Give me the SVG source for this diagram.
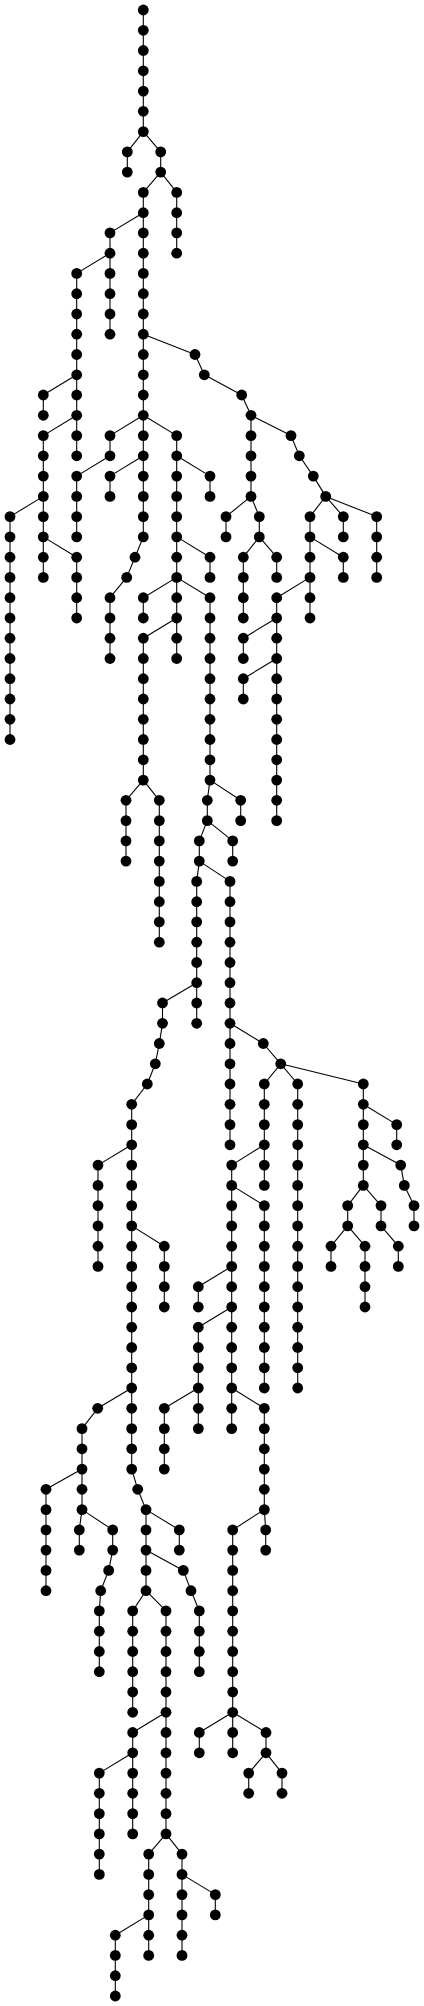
<svg xmlns="http://www.w3.org/2000/svg" width="424" height="2006" viewBox="0 0 424 2006">
<style>.n circle{fill:#000}#edges path{stroke:#000;stroke-width:1.1;fill:none}</style>
<rect width="424" height="2006" fill="#fff"/>
<g id="edges">
<path d="M143.3 10V30.3"/><path d="M143.3 30.3V50.5"/><path d="M143.3 50.5V70.8"/><path d="M143.3 70.8V91.1"/><path d="M143.3 91.1V111.3"/><path d="M143.3 111.3V131.6"/>
<path d="M143.3 131.6L127.3 151.9"/><path d="M143.3 131.6L160.7 151.9"/><path d="M127.3 151.9V172.1"/><path d="M160.7 151.9V172.1"/>
<path d="M160.7 172.1L143.3 192.4"/><path d="M160.7 172.1L176.7 192.4"/>
<path d="M176.7 192.4V212.7"/><path d="M176.7 212.7V232.9"/><path d="M176.7 232.9V253.2"/>
<path d="M143.3 192.4V212.7"/><path d="M143.3 212.7L110 232.9"/><path d="M143.3 212.7V232.9"/>
<path d="M110 232.9V253.2"/><path d="M110 253.2L76.7 273.4"/><path d="M110 253.2V273.4"/><path d="M110 273.4V293.7"/><path d="M110 293.7V314"/><path d="M110 314V334.2"/>
<path d="M76.7 273.4V293.7"/><path d="M76.7 293.7V314"/><path d="M76.7 314V334.2"/><path d="M76.7 334.2V354.5"/><path d="M76.7 354.5V374.8"/>
<path d="M76.7 374.8L43.3 395"/><path d="M76.7 374.8V395"/><path d="M43.3 395V415.3"/><path d="M76.7 395V415.3"/>
<path d="M76.7 415.3L43.3 435.6"/><path d="M76.7 415.3V435.6"/><path d="M76.7 435.6V455.8"/>
<path d="M43.3 435.6V455.8"/><path d="M43.3 455.8V476.1"/><path d="M43.3 476.1V496.4"/>
<path d="M43.3 496.4L10 516.6"/><path d="M43.3 496.4V516.6"/>
<path d="M10 516.6V536.9"/><path d="M10 536.9V557.2"/><path d="M10 557.2V577.4"/><path d="M10 577.4V597.7"/><path d="M10 597.7V618"/><path d="M10 618V638.2"/><path d="M10 638.2V658.5"/><path d="M10 658.5V678.7"/><path d="M10 678.7V699"/><path d="M10 699V719.3"/><path d="M10 719.3V739.5"/>
<path d="M43.3 516.6V536.9"/><path d="M43.3 536.9V557.2"/><path d="M43.3 536.9L76.7 557.2"/><path d="M43.3 557.2V577.4"/>
<path d="M76.7 557.2V577.4"/><path d="M76.7 577.4V597.7"/><path d="M76.7 597.7V618"/>
<path d="M143.3 232.9V253.2"/><path d="M143.3 253.2V273.4"/><path d="M143.3 273.4V293.7"/><path d="M143.3 293.7V314"/><path d="M143.3 314V334.2"/><path d="M143.3 334.2V354.5"/><path d="M143.3 354.5V374.8"/><path d="M143.3 374.8V395"/><path d="M143.3 395V415.3"/>
<path d="M143.3 334.2L195 354.5"/>
<path d="M143.3 415.3L110 435.6"/><path d="M143.3 415.3V435.6"/><path d="M143.3 415.3L176.7 435.6"/>
<path d="M110 435.6V455.8"/><path d="M110 455.8L76.7 476.1"/>
<path d="M76.7 476.1V496.4"/><path d="M76.7 496.4V516.6"/><path d="M76.7 516.6V536.9"/>
<path d="M143.3 435.6V455.8"/><path d="M143.3 455.8L110 476.1"/><path d="M143.3 455.8V476.1"/><path d="M110 476.1V496.4"/>
<path d="M143.3 476.1V496.4"/><path d="M143.3 496.4V516.6"/><path d="M143.3 516.6V536.9"/>
<path d="M143.3 536.9L135 557.2"/><path d="M135 557.2L126.7 577.4"/><path d="M126.7 577.4L110 597.7"/>
<path d="M110 597.7V618"/><path d="M110 618V638.2"/><path d="M110 638.2V658.5"/>
<path d="M176.7 435.6V455.8"/><path d="M176.7 455.8V476.1"/><path d="M176.7 455.8L210 476.1"/><path d="M210 476.1V496.4"/>
<path d="M176.7 476.1V496.4"/><path d="M176.7 496.4V516.6"/><path d="M176.7 516.6V536.9"/>
<path d="M176.7 536.9V557.2"/><path d="M176.7 536.9L210 557.2"/><path d="M210 557.2V577.4"/><path d="M176.7 557.2V577.4"/>
<path d="M176.7 577.4L143.3 597.7"/><path d="M176.7 577.4V597.7"/><path d="M176.7 577.4L210 597.7"/>
<path d="M143.3 597.7V618"/><path d="M176.7 597.7V618"/><path d="M176.7 618L143.3 638.2"/><path d="M176.7 618V638.2"/><path d="M176.7 638.2V658.5"/>
<path d="M143.3 638.2V658.5"/><path d="M143.3 658.5V678.7"/><path d="M143.3 678.7V699"/><path d="M143.3 699V719.3"/><path d="M143.3 719.3V739.5"/><path d="M143.3 739.5V759.8"/><path d="M143.3 759.8V780.1"/>
<path d="M143.3 780.1L126 800.3"/><path d="M143.3 780.1L159.3 800.3"/>
<path d="M126 800.3V820.6"/><path d="M126 820.6V840.9"/><path d="M126 840.9V861.1"/>
<path d="M159.3 800.3V820.6"/><path d="M159.3 820.6V840.9"/><path d="M159.3 840.9V861.1"/><path d="M159.3 861.1V881.4"/><path d="M159.3 881.4V901.7"/><path d="M159.3 901.7V921.9"/><path d="M159.3 921.9V942.2"/>
<path d="M210 597.7V618"/><path d="M210 618V638.2"/><path d="M210 638.2V658.5"/><path d="M210 658.5V678.7"/><path d="M210 678.7V699"/><path d="M210 699V719.3"/><path d="M210 719.3V739.5"/><path d="M210 739.5V759.8"/><path d="M210 759.8V780.1"/>
<path d="M210 780.1L207.3 800.3"/><path d="M210 780.1L240.7 800.3"/><path d="M240.7 800.3V820.6"/><path d="M207.3 800.3V820.6"/>
<path d="M207.3 820.6L199.3 840.9"/><path d="M207.3 820.6L232.7 840.9"/><path d="M232.7 840.9V861.1"/><path d="M199.3 840.9V861.1"/>
<path d="M199.3 861.1L196.7 881.4"/><path d="M199.3 861.1L230 881.4"/>
<path d="M196.7 881.4V901.7"/><path d="M196.7 901.7V921.9"/><path d="M196.7 921.9V942.2"/><path d="M196.7 942.2V962.5"/><path d="M196.7 962.5V982.7"/>
<path d="M196.7 982.7L162.5 1003"/><path d="M196.7 982.7V1003"/><path d="M196.7 1003V1023.3"/>
<path d="M162.5 1003V1023.3"/><path d="M162.5 1023.3L159.3 1043.5"/><path d="M159.3 1043.5L155.3 1063.8"/><path d="M155.3 1063.8L147.3 1084"/><path d="M147.3 1084L131.7 1104.3"/>
<path d="M131.7 1104.3V1124.6"/><path d="M131.7 1124.6V1144.8"/><path d="M131.7 1144.8L98 1165.1"/><path d="M131.7 1144.8V1165.1"/>
<path d="M98 1165.1V1185.4"/><path d="M98 1185.4V1205.6"/><path d="M98 1205.6V1225.9"/><path d="M98 1225.9V1246.2"/><path d="M98 1246.2V1266.4"/>
<path d="M131.7 1165.1V1185.4"/><path d="M131.7 1185.4V1205.6"/><path d="M131.7 1205.6V1225.9"/><path d="M131.7 1225.9L164.3 1246.2"/><path d="M131.7 1225.9V1246.2"/>
<path d="M164.3 1246.2V1266.4"/><path d="M164.3 1266.4V1286.7"/><path d="M164.3 1286.7V1307"/>
<path d="M131.7 1246.2V1266.4"/><path d="M131.7 1266.4V1286.7"/><path d="M131.7 1286.7V1307"/><path d="M131.7 1307V1327.2"/><path d="M131.7 1327.2V1347.5"/><path d="M131.7 1347.5V1367.8"/><path d="M131.7 1367.8V1388"/>
<path d="M131.7 1388L97.7 1408.3"/><path d="M131.7 1388V1408.3"/><path d="M131.7 1408.3V1428.6"/><path d="M131.7 1428.6V1448.8"/><path d="M131.7 1448.8V1469.1"/>
<path d="M131.7 1469.1L137.7 1489.3"/><path d="M137.7 1489.3L146 1509.6"/>
<path d="M97.7 1408.3L82 1428.6"/><path d="M82 1428.6V1448.8"/><path d="M82 1448.8V1469.1"/><path d="M82 1469.1L46 1489.3"/><path d="M82 1469.1V1489.3"/><path d="M82 1489.3V1509.6"/>
<path d="M46 1489.3V1509.6"/><path d="M46 1509.6V1529.9"/><path d="M46 1529.9V1550.1"/><path d="M46 1550.1V1570.4"/><path d="M46 1570.4V1590.7"/>
<path d="M82 1509.6L79.3 1529.9"/><path d="M82 1509.6L112.7 1529.9"/><path d="M79.3 1529.9V1550.1"/><path d="M112.7 1529.9V1550.1"/>
<path d="M112.7 1550.1L108.7 1570.4"/><path d="M108.7 1570.4L100.7 1590.7"/><path d="M100.7 1590.7L99.3 1610.9"/>
<path d="M99.3 1610.9V1631.2"/><path d="M99.3 1631.2V1651.5"/><path d="M99.3 1651.5V1671.7"/>
<path d="M146 1509.6V1529.9"/><path d="M146 1509.6L179.3 1529.9"/><path d="M179.3 1529.9V1550.1"/><path d="M146 1529.9V1550.1"/>
<path d="M146 1550.1V1570.4"/><path d="M146 1550.1L183.3 1570.4"/><path d="M183.3 1570.4L191 1590.7"/><path d="M191 1590.7L199.3 1610.9"/>
<path d="M199.3 1610.9V1631.2"/><path d="M199.3 1631.2V1651.5"/><path d="M199.3 1651.5V1671.7"/>
<path d="M146 1570.4V1590.7"/><path d="M146 1590.7L132.7 1610.9"/><path d="M146 1590.7L166 1610.9"/>
<path d="M132.7 1610.9V1631.2"/><path d="M132.7 1631.2V1651.5"/><path d="M132.7 1651.5V1671.7"/><path d="M132.7 1671.7V1692"/><path d="M132.7 1692V1712.3"/>
<path d="M166 1610.9V1631.2"/><path d="M166 1631.2V1651.5"/><path d="M166 1651.5V1671.7"/><path d="M166 1671.7V1692"/><path d="M166 1692V1712.3"/>
<path d="M166 1712.3L132.7 1732.5"/><path d="M166 1712.3V1732.5"/><path d="M132.7 1732.5V1752.8"/>
<path d="M132.7 1752.8L99.3 1773.1"/><path d="M132.7 1752.8V1773.1"/><path d="M132.7 1773.1V1793.3"/><path d="M132.7 1793.3V1813.6"/><path d="M132.7 1813.6V1833.9"/>
<path d="M99.3 1773.1V1793.3"/><path d="M99.3 1793.3V1813.6"/><path d="M99.3 1813.6V1833.9"/><path d="M99.3 1833.9V1854.1"/><path d="M99.3 1854.1V1874.4"/>
<path d="M166 1732.5V1752.8"/><path d="M166 1752.8V1773.1"/><path d="M166 1773.1V1793.3"/><path d="M166 1793.3V1813.6"/><path d="M166 1813.6V1833.9"/>
<path d="M166 1833.9L148.7 1854.1"/><path d="M166 1833.9L182 1854.1"/>
<path d="M148.7 1854.1V1874.4"/><path d="M148.7 1874.4V1894.6"/><path d="M148.7 1894.6V1914.9"/><path d="M148.7 1914.9L115.3 1935.2"/><path d="M148.7 1914.9V1935.2"/><path d="M148.7 1935.2V1955.4"/>
<path d="M115.3 1935.2V1955.4"/><path d="M115.3 1955.4V1975.7"/><path d="M115.3 1975.7V1996"/>
<path d="M182 1854.1V1874.4"/><path d="M182 1874.4V1894.6"/><path d="M182 1874.4L215.3 1894.6"/><path d="M215.3 1894.6V1914.9"/>
<path d="M182 1894.6V1914.9"/><path d="M182 1914.9V1935.2"/><path d="M182 1935.2V1955.4"/>
<path d="M230 881.4V901.7"/><path d="M230 901.7V921.9"/><path d="M230 921.9V942.2"/><path d="M230 942.2V962.5"/><path d="M230 962.5V982.7"/><path d="M230 982.7V1003"/><path d="M230 1003V1023.3"/>
<path d="M230 1023.3V1043.5"/><path d="M230 1023.3L263.3 1043.5"/>
<path d="M230 1043.5V1063.8"/><path d="M230 1063.8V1084"/><path d="M230 1084V1104.3"/><path d="M230 1104.3V1124.6"/><path d="M230 1124.6V1144.8"/>
<path d="M263.3 1043.5L280.7 1063.8"/><path d="M280.7 1063.8L264.3 1084"/><path d="M280.7 1063.8L297.7 1084"/><path d="M280.7 1063.8L363.3 1084"/>
<path d="M264.3 1084V1104.3"/><path d="M264.3 1104.3V1124.6"/><path d="M264.3 1124.6V1144.8"/><path d="M264.3 1144.8L231.7 1165.1"/><path d="M264.3 1144.8V1165.1"/><path d="M264.3 1165.1V1185.4"/>
<path d="M231.7 1165.1V1185.4"/><path d="M231.7 1185.4V1205.6"/><path d="M231.7 1185.4L264.3 1205.6"/>
<path d="M231.7 1205.6V1225.9"/><path d="M231.7 1225.9V1246.2"/><path d="M231.7 1246.2V1266.4"/>
<path d="M231.7 1266.4L198.3 1286.7"/><path d="M231.7 1266.4V1286.7"/><path d="M198.3 1286.7V1307"/><path d="M231.7 1286.7V1307"/>
<path d="M231.7 1307L198.3 1327.2"/><path d="M231.7 1307V1327.2"/>
<path d="M198.3 1327.2V1347.5"/><path d="M198.3 1347.5V1367.8"/><path d="M198.3 1367.8V1388"/><path d="M198.3 1388L164.3 1408.3"/><path d="M198.3 1388V1408.3"/><path d="M198.3 1408.3V1428.6"/>
<path d="M164.3 1408.3V1428.6"/><path d="M164.3 1428.6V1448.8"/><path d="M164.3 1448.8V1469.1"/>
<path d="M231.7 1327.2V1347.5"/><path d="M231.7 1347.5V1367.8"/><path d="M231.7 1367.8V1388"/><path d="M231.7 1388V1408.3"/><path d="M231.7 1388L264.3 1408.3"/><path d="M231.7 1408.3V1428.6"/>
<path d="M264.3 1205.6V1225.9"/><path d="M264.3 1225.9V1246.2"/><path d="M264.3 1246.2V1266.4"/><path d="M264.3 1266.4V1286.7"/><path d="M264.3 1286.7V1307"/><path d="M264.3 1307V1327.2"/><path d="M264.3 1327.2V1347.5"/><path d="M264.3 1347.5V1367.8"/><path d="M264.3 1367.8V1388"/>
<path d="M264.3 1408.3V1428.6"/><path d="M264.3 1428.6V1448.8"/><path d="M264.3 1448.8V1469.1"/><path d="M264.3 1469.1V1489.3"/><path d="M264.3 1489.3V1509.6"/>
<path d="M264.3 1509.6L232.7 1529.9"/><path d="M264.3 1509.6L265.7 1529.9"/><path d="M265.7 1529.9V1550.1"/>
<path d="M232.7 1529.9V1550.1"/><path d="M232.7 1550.1V1570.4"/><path d="M232.7 1570.4V1590.7"/><path d="M232.7 1590.7V1610.9"/><path d="M232.7 1610.9V1631.2"/><path d="M232.7 1631.2V1651.5"/><path d="M232.7 1651.5V1671.7"/><path d="M232.7 1671.7V1692"/><path d="M232.7 1692V1712.3"/>
<path d="M232.7 1712.3L199.3 1732.5"/><path d="M232.7 1712.3V1732.5"/><path d="M232.7 1712.3L266 1732.5"/>
<path d="M199.3 1732.5V1752.8"/><path d="M232.7 1732.5V1752.8"/><path d="M266 1732.5V1752.8"/>
<path d="M266 1752.8L248.7 1773.1"/><path d="M266 1752.8L282 1773.1"/><path d="M248.7 1773.1V1793.3"/><path d="M282 1773.1V1793.3"/>
<path d="M297.7 1084V1104.3"/><path d="M297.7 1104.3V1124.6"/><path d="M297.7 1124.6V1144.8"/><path d="M297.7 1144.8V1165.1"/><path d="M297.7 1165.1V1185.4"/><path d="M297.7 1185.4V1205.6"/><path d="M297.7 1205.6V1225.9"/><path d="M297.7 1225.9V1246.2"/><path d="M297.7 1246.2V1266.4"/><path d="M297.7 1266.4V1286.7"/><path d="M297.7 1286.7V1307"/><path d="M297.7 1307V1327.2"/><path d="M297.7 1327.2V1347.5"/><path d="M297.7 1347.5V1367.8"/><path d="M297.7 1367.8V1388"/>
<path d="M363.3 1084V1104.3"/><path d="M363.3 1104.3V1124.6"/><path d="M363.3 1104.3L396.7 1124.6"/><path d="M396.7 1124.6V1144.8"/>
<path d="M363.3 1124.6V1144.8"/><path d="M363.3 1144.8V1165.1"/><path d="M363.3 1144.8L400.7 1165.1"/>
<path d="M400.7 1165.1L404.3 1185.4"/><path d="M404.3 1185.4L414 1205.6"/><path d="M414 1205.6V1225.9"/>
<path d="M363.3 1165.1V1185.4"/><path d="M363.3 1185.4L347.7 1205.6"/><path d="M363.3 1185.4L381 1205.6"/>
<path d="M347.7 1205.6V1225.9"/><path d="M347.7 1225.9L331 1246.2"/><path d="M347.7 1225.9L365 1246.2"/><path d="M331 1246.2V1266.4"/>
<path d="M365 1246.2V1266.4"/><path d="M365 1266.4V1286.7"/><path d="M365 1286.7V1307"/>
<path d="M381 1205.6V1225.9"/><path d="M381 1225.9L398.3 1246.2"/><path d="M398.3 1246.2V1266.4"/>
<path d="M195 354.5L204.3 374.8"/><path d="M204.3 374.8L241.7 395"/><path d="M241.7 395L251 415.3"/>
<path d="M251 415.3V435.6"/><path d="M251 415.3L291 435.6"/>
<path d="M251 435.6V455.8"/><path d="M251 455.8V476.1"/><path d="M251 476.1V496.4"/>
<path d="M251 496.4L226 516.6"/><path d="M251 496.4L259.3 516.6"/><path d="M226 516.6V536.9"/><path d="M259.3 516.6V536.9"/>
<path d="M259.3 536.9L243.3 557.2"/><path d="M259.3 536.9L276.7 557.2"/>
<path d="M243.3 557.2V577.4"/><path d="M243.3 577.4V597.7"/><path d="M243.3 597.7V618"/><path d="M276.7 557.2V577.4"/>
<path d="M291 435.6L299.3 455.8"/><path d="M299.3 455.8L313.3 476.1"/><path d="M313.3 476.1L325.7 496.4"/>
<path d="M325.7 496.4L310 516.6"/><path d="M325.7 496.4L343.3 516.6"/><path d="M325.7 496.4L376.7 516.6"/>
<path d="M343.3 516.6V536.9"/><path d="M376.7 516.6V536.9"/><path d="M376.7 536.9V557.2"/><path d="M376.7 557.2V577.4"/>
<path d="M310 516.6V536.9"/><path d="M310 536.9V557.2"/><path d="M310 536.9L343.3 557.2"/><path d="M343.3 557.2V577.4"/>
<path d="M310 557.2V577.4"/><path d="M310 577.4L276.7 597.7"/><path d="M310 577.4V597.7"/><path d="M310 597.7V618"/>
<path d="M276.7 597.7V618"/><path d="M276.7 618L243.3 638.2"/><path d="M276.7 618V638.2"/><path d="M243.3 638.2V658.5"/><path d="M276.7 638.2V658.5"/>
<path d="M276.7 658.5L243.3 678.7"/><path d="M276.7 658.5V678.7"/><path d="M243.3 678.7V699"/>
<path d="M276.7 678.7V699"/><path d="M276.7 699V719.3"/><path d="M276.7 719.3V739.5"/><path d="M276.7 739.5V759.8"/><path d="M276.7 759.8V780.1"/><path d="M276.7 780.1V800.3"/><path d="M276.7 800.3V820.6"/>
</g>
<g id="nodes">
<g id="n430-0" class="n"><circle cx="143.3" cy="10" r="5.4"/></g>
<g id="n430-1" class="n"><circle cx="143.3" cy="30.3" r="5.4"/></g>
<g id="n430-2" class="n"><circle cx="143.3" cy="50.5" r="5.4"/></g>
<g id="n430-3" class="n"><circle cx="143.3" cy="70.8" r="5.4"/></g>
<g id="n430-4" class="n"><circle cx="143.3" cy="91.1" r="5.4"/></g>
<g id="n430-5" class="n"><circle cx="143.3" cy="111.3" r="5.4"/></g>
<g id="n430-6" class="n"><circle cx="143.3" cy="131.6" r="5.4"/></g>
<g id="n382-7" class="n"><circle cx="127.3" cy="151.9" r="5.4"/></g>
<g id="n382-8" class="n"><circle cx="127.3" cy="172.1" r="5.4"/></g>
<g id="n482-7" class="n"><circle cx="160.7" cy="151.9" r="5.4"/></g>
<g id="n482-8" class="n"><circle cx="160.7" cy="172.1" r="5.4"/></g>
<g id="n530-9" class="n"><circle cx="176.7" cy="192.4" r="5.4"/></g>
<g id="n530-10" class="n"><circle cx="176.7" cy="212.7" r="5.4"/></g>
<g id="n530-11" class="n"><circle cx="176.7" cy="232.9" r="5.4"/></g>
<g id="n530-12" class="n"><circle cx="176.7" cy="253.2" r="5.4"/></g>
<g id="n430-9" class="n"><circle cx="143.3" cy="192.4" r="5.4"/></g>
<g id="n430-10" class="n"><circle cx="143.3" cy="212.7" r="5.4"/></g>
<g id="n330-11" class="n"><circle cx="110" cy="232.9" r="5.4"/></g>
<g id="n330-12" class="n"><circle cx="110" cy="253.2" r="5.4"/></g>
<g id="n330-13" class="n"><circle cx="110" cy="273.4" r="5.4"/></g>
<g id="n330-14" class="n"><circle cx="110" cy="293.7" r="5.4"/></g>
<g id="n330-15" class="n"><circle cx="110" cy="314" r="5.4"/></g>
<g id="n330-16" class="n"><circle cx="110" cy="334.2" r="5.4"/></g>
<g id="n230-13" class="n"><circle cx="76.7" cy="273.4" r="5.4"/></g>
<g id="n230-14" class="n"><circle cx="76.7" cy="293.7" r="5.4"/></g>
<g id="n230-15" class="n"><circle cx="76.7" cy="314" r="5.4"/></g>
<g id="n230-16" class="n"><circle cx="76.7" cy="334.2" r="5.4"/></g>
<g id="n230-17" class="n"><circle cx="76.7" cy="354.5" r="5.4"/></g>
<g id="n230-18" class="n"><circle cx="76.7" cy="374.8" r="5.4"/></g>
<g id="n130-19" class="n"><circle cx="43.3" cy="395" r="5.4"/></g>
<g id="n130-20" class="n"><circle cx="43.3" cy="415.3" r="5.4"/></g>
<g id="n230-19" class="n"><circle cx="76.7" cy="395" r="5.4"/></g>
<g id="n230-20" class="n"><circle cx="76.7" cy="415.3" r="5.4"/></g>
<g id="n230-21" class="n"><circle cx="76.7" cy="435.6" r="5.4"/></g>
<g id="n230-22" class="n"><circle cx="76.7" cy="455.8" r="5.4"/></g>
<g id="n130-21" class="n"><circle cx="43.3" cy="435.6" r="5.4"/></g>
<g id="n130-22" class="n"><circle cx="43.3" cy="455.8" r="5.4"/></g>
<g id="n130-23" class="n"><circle cx="43.3" cy="476.1" r="5.4"/></g>
<g id="n130-24" class="n"><circle cx="43.3" cy="496.4" r="5.4"/></g>
<g id="n30-25" class="n"><circle cx="10" cy="516.6" r="5.4"/></g>
<g id="n30-26" class="n"><circle cx="10" cy="536.9" r="5.4"/></g>
<g id="n30-27" class="n"><circle cx="10" cy="557.2" r="5.4"/></g>
<g id="n30-28" class="n"><circle cx="10" cy="577.4" r="5.4"/></g>
<g id="n30-29" class="n"><circle cx="10" cy="597.7" r="5.4"/></g>
<g id="n30-30" class="n"><circle cx="10" cy="618" r="5.4"/></g>
<g id="n30-31" class="n"><circle cx="10" cy="638.2" r="5.4"/></g>
<g id="n30-32" class="n"><circle cx="10" cy="658.5" r="5.4"/></g>
<g id="n30-33" class="n"><circle cx="10" cy="678.7" r="5.4"/></g>
<g id="n30-34" class="n"><circle cx="10" cy="699" r="5.4"/></g>
<g id="n30-35" class="n"><circle cx="10" cy="719.3" r="5.4"/></g>
<g id="n30-36" class="n"><circle cx="10" cy="739.5" r="5.4"/></g>
<g id="n130-25" class="n"><circle cx="43.3" cy="516.6" r="5.4"/></g>
<g id="n130-26" class="n"><circle cx="43.3" cy="536.9" r="5.4"/></g>
<g id="n130-27" class="n"><circle cx="43.3" cy="557.2" r="5.4"/></g>
<g id="n130-28" class="n"><circle cx="43.3" cy="577.4" r="5.4"/></g>
<g id="n230-27" class="n"><circle cx="76.7" cy="557.2" r="5.4"/></g>
<g id="n230-28" class="n"><circle cx="76.7" cy="577.4" r="5.4"/></g>
<g id="n230-29" class="n"><circle cx="76.7" cy="597.7" r="5.4"/></g>
<g id="n230-30" class="n"><circle cx="76.7" cy="618" r="5.4"/></g>
<g id="n430-11" class="n"><circle cx="143.3" cy="232.9" r="5.4"/></g>
<g id="n430-12" class="n"><circle cx="143.3" cy="253.2" r="5.4"/></g>
<g id="n430-13" class="n"><circle cx="143.3" cy="273.4" r="5.4"/></g>
<g id="n430-14" class="n"><circle cx="143.3" cy="293.7" r="5.4"/></g>
<g id="n430-15" class="n"><circle cx="143.3" cy="314" r="5.4"/></g>
<g id="n430-16" class="n"><circle cx="143.3" cy="334.2" r="5.4"/></g>
<g id="n430-17" class="n"><circle cx="143.3" cy="354.5" r="5.4"/></g>
<g id="n430-18" class="n"><circle cx="143.3" cy="374.8" r="5.4"/></g>
<g id="n430-19" class="n"><circle cx="143.3" cy="395" r="5.4"/></g>
<g id="n430-20" class="n"><circle cx="143.3" cy="415.3" r="5.4"/></g>
<g id="n430-21" class="n"><circle cx="143.3" cy="435.6" r="5.4"/></g>
<g id="n430-22" class="n"><circle cx="143.3" cy="455.8" r="5.4"/></g>
<g id="n430-23" class="n"><circle cx="143.3" cy="476.1" r="5.4"/></g>
<g id="n430-24" class="n"><circle cx="143.3" cy="496.4" r="5.4"/></g>
<g id="n430-25" class="n"><circle cx="143.3" cy="516.6" r="5.4"/></g>
<g id="n430-26" class="n"><circle cx="143.3" cy="536.9" r="5.4"/></g>
<g id="n330-21" class="n"><circle cx="110" cy="435.6" r="5.4"/></g>
<g id="n330-22" class="n"><circle cx="110" cy="455.8" r="5.4"/></g>
<g id="n230-23" class="n"><circle cx="76.7" cy="476.1" r="5.4"/></g>
<g id="n230-24" class="n"><circle cx="76.7" cy="496.4" r="5.4"/></g>
<g id="n230-25" class="n"><circle cx="76.7" cy="516.6" r="5.4"/></g>
<g id="n230-26" class="n"><circle cx="76.7" cy="536.9" r="5.4"/></g>
<g id="n330-23" class="n"><circle cx="110" cy="476.1" r="5.4"/></g>
<g id="n330-24" class="n"><circle cx="110" cy="496.4" r="5.4"/></g>
<g id="n405-27" class="n"><circle cx="135" cy="557.2" r="5.4"/></g>
<g id="n380-28" class="n"><circle cx="126.7" cy="577.4" r="5.4"/></g>
<g id="n330-29" class="n"><circle cx="110" cy="597.7" r="5.4"/></g>
<g id="n330-30" class="n"><circle cx="110" cy="618" r="5.4"/></g>
<g id="n330-31" class="n"><circle cx="110" cy="638.2" r="5.4"/></g>
<g id="n330-32" class="n"><circle cx="110" cy="658.5" r="5.4"/></g>
<g id="n530-21" class="n"><circle cx="176.7" cy="435.6" r="5.4"/></g>
<g id="n530-22" class="n"><circle cx="176.7" cy="455.8" r="5.4"/></g>
<g id="n530-23" class="n"><circle cx="176.7" cy="476.1" r="5.4"/></g>
<g id="n530-24" class="n"><circle cx="176.7" cy="496.4" r="5.4"/></g>
<g id="n530-25" class="n"><circle cx="176.7" cy="516.6" r="5.4"/></g>
<g id="n530-26" class="n"><circle cx="176.7" cy="536.9" r="5.4"/></g>
<g id="n530-27" class="n"><circle cx="176.7" cy="557.2" r="5.4"/></g>
<g id="n530-28" class="n"><circle cx="176.7" cy="577.4" r="5.4"/></g>
<g id="n530-29" class="n"><circle cx="176.7" cy="597.7" r="5.4"/></g>
<g id="n530-30" class="n"><circle cx="176.7" cy="618" r="5.4"/></g>
<g id="n530-31" class="n"><circle cx="176.7" cy="638.2" r="5.4"/></g>
<g id="n530-32" class="n"><circle cx="176.7" cy="658.5" r="5.4"/></g>
<g id="n630-23" class="n"><circle cx="210" cy="476.1" r="5.4"/></g>
<g id="n630-24" class="n"><circle cx="210" cy="496.4" r="5.4"/></g>
<g id="n630-27" class="n"><circle cx="210" cy="557.2" r="5.4"/></g>
<g id="n630-28" class="n"><circle cx="210" cy="577.4" r="5.4"/></g>
<g id="n430-29" class="n"><circle cx="143.3" cy="597.7" r="5.4"/></g>
<g id="n430-30" class="n"><circle cx="143.3" cy="618" r="5.4"/></g>
<g id="n430-31" class="n"><circle cx="143.3" cy="638.2" r="5.4"/></g>
<g id="n430-32" class="n"><circle cx="143.3" cy="658.5" r="5.4"/></g>
<g id="n430-33" class="n"><circle cx="143.3" cy="678.7" r="5.4"/></g>
<g id="n430-34" class="n"><circle cx="143.3" cy="699" r="5.4"/></g>
<g id="n430-35" class="n"><circle cx="143.3" cy="719.3" r="5.4"/></g>
<g id="n430-36" class="n"><circle cx="143.3" cy="739.5" r="5.4"/></g>
<g id="n430-37" class="n"><circle cx="143.3" cy="759.8" r="5.4"/></g>
<g id="n430-38" class="n"><circle cx="143.3" cy="780.1" r="5.4"/></g>
<g id="n378-39" class="n"><circle cx="126" cy="800.3" r="5.4"/></g>
<g id="n378-40" class="n"><circle cx="126" cy="820.6" r="5.4"/></g>
<g id="n378-41" class="n"><circle cx="126" cy="840.9" r="5.4"/></g>
<g id="n378-42" class="n"><circle cx="126" cy="861.1" r="5.4"/></g>
<g id="n478-39" class="n"><circle cx="159.3" cy="800.3" r="5.4"/></g>
<g id="n478-40" class="n"><circle cx="159.3" cy="820.6" r="5.4"/></g>
<g id="n478-41" class="n"><circle cx="159.3" cy="840.9" r="5.4"/></g>
<g id="n478-42" class="n"><circle cx="159.3" cy="861.1" r="5.4"/></g>
<g id="n478-43" class="n"><circle cx="159.3" cy="881.4" r="5.4"/></g>
<g id="n478-44" class="n"><circle cx="159.3" cy="901.7" r="5.4"/></g>
<g id="n478-45" class="n"><circle cx="159.3" cy="921.9" r="5.4"/></g>
<g id="n478-46" class="n"><circle cx="159.3" cy="942.2" r="5.4"/></g>
<g id="n630-29" class="n"><circle cx="210" cy="597.7" r="5.4"/></g>
<g id="n630-30" class="n"><circle cx="210" cy="618" r="5.4"/></g>
<g id="n630-31" class="n"><circle cx="210" cy="638.2" r="5.4"/></g>
<g id="n630-32" class="n"><circle cx="210" cy="658.5" r="5.4"/></g>
<g id="n630-33" class="n"><circle cx="210" cy="678.7" r="5.4"/></g>
<g id="n630-34" class="n"><circle cx="210" cy="699" r="5.4"/></g>
<g id="n630-35" class="n"><circle cx="210" cy="719.3" r="5.4"/></g>
<g id="n630-36" class="n"><circle cx="210" cy="739.5" r="5.4"/></g>
<g id="n630-37" class="n"><circle cx="210" cy="759.8" r="5.4"/></g>
<g id="n630-38" class="n"><circle cx="210" cy="780.1" r="5.4"/></g>
<g id="n722-39" class="n"><circle cx="240.7" cy="800.3" r="5.4"/></g>
<g id="n722-40" class="n"><circle cx="240.7" cy="820.6" r="5.4"/></g>
<g id="n622-39" class="n"><circle cx="207.3" cy="800.3" r="5.4"/></g>
<g id="n622-40" class="n"><circle cx="207.3" cy="820.6" r="5.4"/></g>
<g id="n698-41" class="n"><circle cx="232.7" cy="840.9" r="5.4"/></g>
<g id="n698-42" class="n"><circle cx="232.7" cy="861.1" r="5.4"/></g>
<g id="n598-41" class="n"><circle cx="199.3" cy="840.9" r="5.4"/></g>
<g id="n598-42" class="n"><circle cx="199.3" cy="861.1" r="5.4"/></g>
<g id="n590-43" class="n"><circle cx="196.7" cy="881.4" r="5.4"/></g>
<g id="n590-44" class="n"><circle cx="196.7" cy="901.7" r="5.4"/></g>
<g id="n590-45" class="n"><circle cx="196.7" cy="921.9" r="5.4"/></g>
<g id="n590-46" class="n"><circle cx="196.7" cy="942.2" r="5.4"/></g>
<g id="n590-47" class="n"><circle cx="196.7" cy="962.5" r="5.4"/></g>
<g id="n590-48" class="n"><circle cx="196.7" cy="982.7" r="5.4"/></g>
<g id="n590-49" class="n"><circle cx="196.7" cy="1003" r="5.4"/></g>
<g id="n590-50" class="n"><circle cx="196.7" cy="1023.3" r="5.4"/></g>
<g id="n488-49" class="n"><circle cx="162.5" cy="1003" r="5.4"/></g>
<g id="n488-50" class="n"><circle cx="162.5" cy="1023.3" r="5.4"/></g>
<g id="n478-51" class="n"><circle cx="159.3" cy="1043.5" r="5.4"/></g>
<g id="n466-52" class="n"><circle cx="155.3" cy="1063.8" r="5.4"/></g>
<g id="n442-53" class="n"><circle cx="147.3" cy="1084" r="5.4"/></g>
<g id="n395-54" class="n"><circle cx="131.7" cy="1104.3" r="5.4"/></g>
<g id="n395-55" class="n"><circle cx="131.7" cy="1124.6" r="5.4"/></g>
<g id="n395-56" class="n"><circle cx="131.7" cy="1144.8" r="5.4"/></g>
<g id="n395-57" class="n"><circle cx="131.7" cy="1165.1" r="5.4"/></g>
<g id="n395-58" class="n"><circle cx="131.7" cy="1185.4" r="5.4"/></g>
<g id="n395-59" class="n"><circle cx="131.7" cy="1205.6" r="5.4"/></g>
<g id="n395-60" class="n"><circle cx="131.7" cy="1225.9" r="5.4"/></g>
<g id="n395-61" class="n"><circle cx="131.7" cy="1246.2" r="5.4"/></g>
<g id="n395-62" class="n"><circle cx="131.7" cy="1266.4" r="5.4"/></g>
<g id="n395-63" class="n"><circle cx="131.7" cy="1286.7" r="5.4"/></g>
<g id="n395-64" class="n"><circle cx="131.7" cy="1307" r="5.4"/></g>
<g id="n395-65" class="n"><circle cx="131.7" cy="1327.2" r="5.4"/></g>
<g id="n395-66" class="n"><circle cx="131.7" cy="1347.5" r="5.4"/></g>
<g id="n395-67" class="n"><circle cx="131.7" cy="1367.8" r="5.4"/></g>
<g id="n395-68" class="n"><circle cx="131.7" cy="1388" r="5.4"/></g>
<g id="n395-69" class="n"><circle cx="131.7" cy="1408.3" r="5.4"/></g>
<g id="n395-70" class="n"><circle cx="131.7" cy="1428.6" r="5.4"/></g>
<g id="n395-71" class="n"><circle cx="131.7" cy="1448.8" r="5.4"/></g>
<g id="n395-72" class="n"><circle cx="131.7" cy="1469.1" r="5.4"/></g>
<g id="n295-57" class="n"><circle cx="98" cy="1165.1" r="5.4"/></g>
<g id="n295-58" class="n"><circle cx="98" cy="1185.4" r="5.4"/></g>
<g id="n295-59" class="n"><circle cx="98" cy="1205.6" r="5.4"/></g>
<g id="n295-60" class="n"><circle cx="98" cy="1225.9" r="5.4"/></g>
<g id="n295-61" class="n"><circle cx="98" cy="1246.2" r="5.4"/></g>
<g id="n295-62" class="n"><circle cx="98" cy="1266.4" r="5.4"/></g>
<g id="n493-61" class="n"><circle cx="164.3" cy="1246.2" r="5.4"/></g>
<g id="n493-62" class="n"><circle cx="164.3" cy="1266.4" r="5.4"/></g>
<g id="n493-63" class="n"><circle cx="164.3" cy="1286.7" r="5.4"/></g>
<g id="n493-64" class="n"><circle cx="164.3" cy="1307" r="5.4"/></g>
<g id="n293-69" class="n"><circle cx="97.7" cy="1408.3" r="5.4"/></g>
<g id="n246-70" class="n"><circle cx="82" cy="1428.6" r="5.4"/></g>
<g id="n246-71" class="n"><circle cx="82" cy="1448.8" r="5.4"/></g>
<g id="n246-72" class="n"><circle cx="82" cy="1469.1" r="5.4"/></g>
<g id="n246-73" class="n"><circle cx="82" cy="1489.3" r="5.4"/></g>
<g id="n246-74" class="n"><circle cx="82" cy="1509.6" r="5.4"/></g>
<g id="n138-73" class="n"><circle cx="46" cy="1489.3" r="5.4"/></g>
<g id="n138-74" class="n"><circle cx="46" cy="1509.6" r="5.4"/></g>
<g id="n138-75" class="n"><circle cx="46" cy="1529.9" r="5.4"/></g>
<g id="n138-76" class="n"><circle cx="46" cy="1550.1" r="5.4"/></g>
<g id="n138-77" class="n"><circle cx="46" cy="1570.4" r="5.4"/></g>
<g id="n138-78" class="n"><circle cx="46" cy="1590.7" r="5.4"/></g>
<g id="n238-75" class="n"><circle cx="79.3" cy="1529.9" r="5.4"/></g>
<g id="n238-76" class="n"><circle cx="79.3" cy="1550.1" r="5.4"/></g>
<g id="n338-75" class="n"><circle cx="112.7" cy="1529.9" r="5.4"/></g>
<g id="n338-76" class="n"><circle cx="112.7" cy="1550.1" r="5.4"/></g>
<g id="n326-77" class="n"><circle cx="108.7" cy="1570.4" r="5.4"/></g>
<g id="n302-78" class="n"><circle cx="100.7" cy="1590.7" r="5.4"/></g>
<g id="n298-79" class="n"><circle cx="99.3" cy="1610.9" r="5.4"/></g>
<g id="n298-80" class="n"><circle cx="99.3" cy="1631.2" r="5.4"/></g>
<g id="n298-81" class="n"><circle cx="99.3" cy="1651.5" r="5.4"/></g>
<g id="n298-82" class="n"><circle cx="99.3" cy="1671.7" r="5.4"/></g>
<g id="n413-73" class="n"><circle cx="137.7" cy="1489.3" r="5.4"/></g>
<g id="n438-74" class="n"><circle cx="146" cy="1509.6" r="5.4"/></g>
<g id="n438-75" class="n"><circle cx="146" cy="1529.9" r="5.4"/></g>
<g id="n438-76" class="n"><circle cx="146" cy="1550.1" r="5.4"/></g>
<g id="n438-77" class="n"><circle cx="146" cy="1570.4" r="5.4"/></g>
<g id="n438-78" class="n"><circle cx="146" cy="1590.7" r="5.4"/></g>
<g id="n538-75" class="n"><circle cx="179.3" cy="1529.9" r="5.4"/></g>
<g id="n538-76" class="n"><circle cx="179.3" cy="1550.1" r="5.4"/></g>
<g id="n550-77" class="n"><circle cx="183.3" cy="1570.4" r="5.4"/></g>
<g id="n573-78" class="n"><circle cx="191" cy="1590.7" r="5.4"/></g>
<g id="n598-79" class="n"><circle cx="199.3" cy="1610.9" r="5.4"/></g>
<g id="n598-80" class="n"><circle cx="199.3" cy="1631.2" r="5.4"/></g>
<g id="n598-81" class="n"><circle cx="199.3" cy="1651.5" r="5.4"/></g>
<g id="n598-82" class="n"><circle cx="199.3" cy="1671.7" r="5.4"/></g>
<g id="n398-79" class="n"><circle cx="132.7" cy="1610.9" r="5.4"/></g>
<g id="n398-80" class="n"><circle cx="132.7" cy="1631.2" r="5.4"/></g>
<g id="n398-81" class="n"><circle cx="132.7" cy="1651.5" r="5.4"/></g>
<g id="n398-82" class="n"><circle cx="132.7" cy="1671.7" r="5.4"/></g>
<g id="n398-83" class="n"><circle cx="132.7" cy="1692" r="5.4"/></g>
<g id="n398-84" class="n"><circle cx="132.7" cy="1712.3" r="5.4"/></g>
<g id="n498-79" class="n"><circle cx="166" cy="1610.9" r="5.4"/></g>
<g id="n498-80" class="n"><circle cx="166" cy="1631.2" r="5.4"/></g>
<g id="n498-81" class="n"><circle cx="166" cy="1651.5" r="5.4"/></g>
<g id="n498-82" class="n"><circle cx="166" cy="1671.7" r="5.4"/></g>
<g id="n498-83" class="n"><circle cx="166" cy="1692" r="5.4"/></g>
<g id="n498-84" class="n"><circle cx="166" cy="1712.3" r="5.4"/></g>
<g id="n498-85" class="n"><circle cx="166" cy="1732.5" r="5.4"/></g>
<g id="n498-86" class="n"><circle cx="166" cy="1752.8" r="5.4"/></g>
<g id="n498-87" class="n"><circle cx="166" cy="1773.1" r="5.4"/></g>
<g id="n498-88" class="n"><circle cx="166" cy="1793.3" r="5.4"/></g>
<g id="n498-89" class="n"><circle cx="166" cy="1813.6" r="5.4"/></g>
<g id="n498-90" class="n"><circle cx="166" cy="1833.9" r="5.4"/></g>
<g id="n398-85" class="n"><circle cx="132.7" cy="1732.5" r="5.4"/></g>
<g id="n398-86" class="n"><circle cx="132.7" cy="1752.8" r="5.4"/></g>
<g id="n398-87" class="n"><circle cx="132.7" cy="1773.1" r="5.4"/></g>
<g id="n398-88" class="n"><circle cx="132.7" cy="1793.3" r="5.4"/></g>
<g id="n398-89" class="n"><circle cx="132.7" cy="1813.6" r="5.4"/></g>
<g id="n398-90" class="n"><circle cx="132.7" cy="1833.9" r="5.4"/></g>
<g id="n298-87" class="n"><circle cx="99.3" cy="1773.1" r="5.4"/></g>
<g id="n298-88" class="n"><circle cx="99.3" cy="1793.3" r="5.4"/></g>
<g id="n298-89" class="n"><circle cx="99.3" cy="1813.6" r="5.4"/></g>
<g id="n298-90" class="n"><circle cx="99.3" cy="1833.9" r="5.4"/></g>
<g id="n298-91" class="n"><circle cx="99.3" cy="1854.1" r="5.4"/></g>
<g id="n298-92" class="n"><circle cx="99.3" cy="1874.4" r="5.4"/></g>
<g id="n446-91" class="n"><circle cx="148.7" cy="1854.1" r="5.4"/></g>
<g id="n446-92" class="n"><circle cx="148.7" cy="1874.4" r="5.4"/></g>
<g id="n446-93" class="n"><circle cx="148.7" cy="1894.6" r="5.4"/></g>
<g id="n446-94" class="n"><circle cx="148.7" cy="1914.9" r="5.4"/></g>
<g id="n446-95" class="n"><circle cx="148.7" cy="1935.2" r="5.4"/></g>
<g id="n446-96" class="n"><circle cx="148.7" cy="1955.4" r="5.4"/></g>
<g id="n346-95" class="n"><circle cx="115.3" cy="1935.2" r="5.4"/></g>
<g id="n346-96" class="n"><circle cx="115.3" cy="1955.4" r="5.4"/></g>
<g id="n346-97" class="n"><circle cx="115.3" cy="1975.7" r="5.4"/></g>
<g id="n346-98" class="n"><circle cx="115.3" cy="1996" r="5.4"/></g>
<g id="n546-91" class="n"><circle cx="182" cy="1854.1" r="5.4"/></g>
<g id="n546-92" class="n"><circle cx="182" cy="1874.4" r="5.4"/></g>
<g id="n546-93" class="n"><circle cx="182" cy="1894.6" r="5.4"/></g>
<g id="n546-94" class="n"><circle cx="182" cy="1914.9" r="5.4"/></g>
<g id="n546-95" class="n"><circle cx="182" cy="1935.2" r="5.4"/></g>
<g id="n546-96" class="n"><circle cx="182" cy="1955.4" r="5.4"/></g>
<g id="n646-93" class="n"><circle cx="215.3" cy="1894.6" r="5.4"/></g>
<g id="n646-94" class="n"><circle cx="215.3" cy="1914.9" r="5.4"/></g>
<g id="n690-43" class="n"><circle cx="230" cy="881.4" r="5.4"/></g>
<g id="n690-44" class="n"><circle cx="230" cy="901.7" r="5.4"/></g>
<g id="n690-45" class="n"><circle cx="230" cy="921.9" r="5.4"/></g>
<g id="n690-46" class="n"><circle cx="230" cy="942.2" r="5.4"/></g>
<g id="n690-47" class="n"><circle cx="230" cy="962.5" r="5.4"/></g>
<g id="n690-48" class="n"><circle cx="230" cy="982.7" r="5.4"/></g>
<g id="n690-49" class="n"><circle cx="230" cy="1003" r="5.4"/></g>
<g id="n690-50" class="n"><circle cx="230" cy="1023.3" r="5.4"/></g>
<g id="n690-51" class="n"><circle cx="230" cy="1043.5" r="5.4"/></g>
<g id="n690-52" class="n"><circle cx="230" cy="1063.8" r="5.4"/></g>
<g id="n690-53" class="n"><circle cx="230" cy="1084" r="5.4"/></g>
<g id="n690-54" class="n"><circle cx="230" cy="1104.3" r="5.4"/></g>
<g id="n690-55" class="n"><circle cx="230" cy="1124.6" r="5.4"/></g>
<g id="n690-56" class="n"><circle cx="230" cy="1144.8" r="5.4"/></g>
<g id="n790-51" class="n"><circle cx="263.3" cy="1043.5" r="5.4"/></g>
<g id="n842-52" class="n"><circle cx="280.7" cy="1063.8" r="5.4"/></g>
<g id="n793-53" class="n"><circle cx="264.3" cy="1084" r="5.4"/></g>
<g id="n793-54" class="n"><circle cx="264.3" cy="1104.3" r="5.4"/></g>
<g id="n793-55" class="n"><circle cx="264.3" cy="1124.6" r="5.4"/></g>
<g id="n793-56" class="n"><circle cx="264.3" cy="1144.8" r="5.4"/></g>
<g id="n793-57" class="n"><circle cx="264.3" cy="1165.1" r="5.4"/></g>
<g id="n793-58" class="n"><circle cx="264.3" cy="1185.4" r="5.4"/></g>
<g id="n695-57" class="n"><circle cx="231.7" cy="1165.1" r="5.4"/></g>
<g id="n695-58" class="n"><circle cx="231.7" cy="1185.4" r="5.4"/></g>
<g id="n695-59" class="n"><circle cx="231.7" cy="1205.6" r="5.4"/></g>
<g id="n695-60" class="n"><circle cx="231.7" cy="1225.9" r="5.4"/></g>
<g id="n695-61" class="n"><circle cx="231.7" cy="1246.2" r="5.4"/></g>
<g id="n695-62" class="n"><circle cx="231.7" cy="1266.4" r="5.4"/></g>
<g id="n695-63" class="n"><circle cx="231.7" cy="1286.7" r="5.4"/></g>
<g id="n695-64" class="n"><circle cx="231.7" cy="1307" r="5.4"/></g>
<g id="n695-65" class="n"><circle cx="231.7" cy="1327.2" r="5.4"/></g>
<g id="n695-66" class="n"><circle cx="231.7" cy="1347.5" r="5.4"/></g>
<g id="n695-67" class="n"><circle cx="231.7" cy="1367.8" r="5.4"/></g>
<g id="n695-68" class="n"><circle cx="231.7" cy="1388" r="5.4"/></g>
<g id="n695-69" class="n"><circle cx="231.7" cy="1408.3" r="5.4"/></g>
<g id="n695-70" class="n"><circle cx="231.7" cy="1428.6" r="5.4"/></g>
<g id="n793-59" class="n"><circle cx="264.3" cy="1205.6" r="5.4"/></g>
<g id="n793-60" class="n"><circle cx="264.3" cy="1225.9" r="5.4"/></g>
<g id="n793-61" class="n"><circle cx="264.3" cy="1246.2" r="5.4"/></g>
<g id="n793-62" class="n"><circle cx="264.3" cy="1266.4" r="5.4"/></g>
<g id="n793-63" class="n"><circle cx="264.3" cy="1286.7" r="5.4"/></g>
<g id="n793-64" class="n"><circle cx="264.3" cy="1307" r="5.4"/></g>
<g id="n793-65" class="n"><circle cx="264.3" cy="1327.2" r="5.4"/></g>
<g id="n793-66" class="n"><circle cx="264.3" cy="1347.5" r="5.4"/></g>
<g id="n793-67" class="n"><circle cx="264.3" cy="1367.8" r="5.4"/></g>
<g id="n793-68" class="n"><circle cx="264.3" cy="1388" r="5.4"/></g>
<g id="n793-69" class="n"><circle cx="264.3" cy="1408.3" r="5.4"/></g>
<g id="n793-70" class="n"><circle cx="264.3" cy="1428.6" r="5.4"/></g>
<g id="n793-71" class="n"><circle cx="264.3" cy="1448.8" r="5.4"/></g>
<g id="n793-72" class="n"><circle cx="264.3" cy="1469.1" r="5.4"/></g>
<g id="n793-73" class="n"><circle cx="264.3" cy="1489.3" r="5.4"/></g>
<g id="n793-74" class="n"><circle cx="264.3" cy="1509.6" r="5.4"/></g>
<g id="n595-63" class="n"><circle cx="198.3" cy="1286.7" r="5.4"/></g>
<g id="n595-64" class="n"><circle cx="198.3" cy="1307" r="5.4"/></g>
<g id="n595-65" class="n"><circle cx="198.3" cy="1327.2" r="5.4"/></g>
<g id="n595-66" class="n"><circle cx="198.3" cy="1347.5" r="5.4"/></g>
<g id="n595-67" class="n"><circle cx="198.3" cy="1367.8" r="5.4"/></g>
<g id="n595-68" class="n"><circle cx="198.3" cy="1388" r="5.4"/></g>
<g id="n595-69" class="n"><circle cx="198.3" cy="1408.3" r="5.4"/></g>
<g id="n595-70" class="n"><circle cx="198.3" cy="1428.6" r="5.4"/></g>
<g id="n493-69" class="n"><circle cx="164.3" cy="1408.3" r="5.4"/></g>
<g id="n493-70" class="n"><circle cx="164.3" cy="1428.6" r="5.4"/></g>
<g id="n493-71" class="n"><circle cx="164.3" cy="1448.8" r="5.4"/></g>
<g id="n493-72" class="n"><circle cx="164.3" cy="1469.1" r="5.4"/></g>
<g id="n698-75" class="n"><circle cx="232.7" cy="1529.9" r="5.4"/></g>
<g id="n698-76" class="n"><circle cx="232.7" cy="1550.1" r="5.4"/></g>
<g id="n698-77" class="n"><circle cx="232.7" cy="1570.4" r="5.4"/></g>
<g id="n698-78" class="n"><circle cx="232.7" cy="1590.7" r="5.4"/></g>
<g id="n698-79" class="n"><circle cx="232.7" cy="1610.9" r="5.4"/></g>
<g id="n698-80" class="n"><circle cx="232.7" cy="1631.2" r="5.4"/></g>
<g id="n698-81" class="n"><circle cx="232.7" cy="1651.5" r="5.4"/></g>
<g id="n698-82" class="n"><circle cx="232.7" cy="1671.7" r="5.4"/></g>
<g id="n698-83" class="n"><circle cx="232.7" cy="1692" r="5.4"/></g>
<g id="n698-84" class="n"><circle cx="232.7" cy="1712.3" r="5.4"/></g>
<g id="n698-85" class="n"><circle cx="232.7" cy="1732.5" r="5.4"/></g>
<g id="n698-86" class="n"><circle cx="232.7" cy="1752.8" r="5.4"/></g>
<g id="n797-75" class="n"><circle cx="265.7" cy="1529.9" r="5.4"/></g>
<g id="n797-76" class="n"><circle cx="265.7" cy="1550.1" r="5.4"/></g>
<g id="n598-85" class="n"><circle cx="199.3" cy="1732.5" r="5.4"/></g>
<g id="n598-86" class="n"><circle cx="199.3" cy="1752.8" r="5.4"/></g>
<g id="n798-85" class="n"><circle cx="266" cy="1732.5" r="5.4"/></g>
<g id="n798-86" class="n"><circle cx="266" cy="1752.8" r="5.4"/></g>
<g id="n746-87" class="n"><circle cx="248.7" cy="1773.1" r="5.4"/></g>
<g id="n746-88" class="n"><circle cx="248.7" cy="1793.3" r="5.4"/></g>
<g id="n846-87" class="n"><circle cx="282" cy="1773.1" r="5.4"/></g>
<g id="n846-88" class="n"><circle cx="282" cy="1793.3" r="5.4"/></g>
<g id="n893-53" class="n"><circle cx="297.7" cy="1084" r="5.4"/></g>
<g id="n893-54" class="n"><circle cx="297.7" cy="1104.3" r="5.4"/></g>
<g id="n893-55" class="n"><circle cx="297.7" cy="1124.6" r="5.4"/></g>
<g id="n893-56" class="n"><circle cx="297.7" cy="1144.8" r="5.4"/></g>
<g id="n893-57" class="n"><circle cx="297.7" cy="1165.1" r="5.4"/></g>
<g id="n893-58" class="n"><circle cx="297.7" cy="1185.4" r="5.4"/></g>
<g id="n893-59" class="n"><circle cx="297.7" cy="1205.6" r="5.4"/></g>
<g id="n893-60" class="n"><circle cx="297.7" cy="1225.9" r="5.4"/></g>
<g id="n893-61" class="n"><circle cx="297.7" cy="1246.2" r="5.4"/></g>
<g id="n893-62" class="n"><circle cx="297.7" cy="1266.4" r="5.4"/></g>
<g id="n893-63" class="n"><circle cx="297.7" cy="1286.7" r="5.4"/></g>
<g id="n893-64" class="n"><circle cx="297.7" cy="1307" r="5.4"/></g>
<g id="n893-65" class="n"><circle cx="297.7" cy="1327.2" r="5.4"/></g>
<g id="n893-66" class="n"><circle cx="297.7" cy="1347.5" r="5.4"/></g>
<g id="n893-67" class="n"><circle cx="297.7" cy="1367.8" r="5.4"/></g>
<g id="n893-68" class="n"><circle cx="297.7" cy="1388" r="5.4"/></g>
<g id="n1090-53" class="n"><circle cx="363.3" cy="1084" r="5.4"/></g>
<g id="n1090-54" class="n"><circle cx="363.3" cy="1104.3" r="5.4"/></g>
<g id="n1090-55" class="n"><circle cx="363.3" cy="1124.6" r="5.4"/></g>
<g id="n1090-56" class="n"><circle cx="363.3" cy="1144.8" r="5.4"/></g>
<g id="n1090-57" class="n"><circle cx="363.3" cy="1165.1" r="5.4"/></g>
<g id="n1090-58" class="n"><circle cx="363.3" cy="1185.4" r="5.4"/></g>
<g id="n1190-55" class="n"><circle cx="396.7" cy="1124.6" r="5.4"/></g>
<g id="n1190-56" class="n"><circle cx="396.7" cy="1144.8" r="5.4"/></g>
<g id="n1202-57" class="n"><circle cx="400.7" cy="1165.1" r="5.4"/></g>
<g id="n1213-58" class="n"><circle cx="404.3" cy="1185.4" r="5.4"/></g>
<g id="n1242-59" class="n"><circle cx="414" cy="1205.6" r="5.4"/></g>
<g id="n1242-60" class="n"><circle cx="414" cy="1225.9" r="5.4"/></g>
<g id="n1043-59" class="n"><circle cx="347.7" cy="1205.6" r="5.4"/></g>
<g id="n1043-60" class="n"><circle cx="347.7" cy="1225.9" r="5.4"/></g>
<g id="n993-61" class="n"><circle cx="331" cy="1246.2" r="5.4"/></g>
<g id="n993-62" class="n"><circle cx="331" cy="1266.4" r="5.4"/></g>
<g id="n1095-61" class="n"><circle cx="365" cy="1246.2" r="5.4"/></g>
<g id="n1095-62" class="n"><circle cx="365" cy="1266.4" r="5.4"/></g>
<g id="n1095-63" class="n"><circle cx="365" cy="1286.7" r="5.4"/></g>
<g id="n1095-64" class="n"><circle cx="365" cy="1307" r="5.4"/></g>
<g id="n1143-59" class="n"><circle cx="381" cy="1205.6" r="5.4"/></g>
<g id="n1143-60" class="n"><circle cx="381" cy="1225.9" r="5.4"/></g>
<g id="n1195-61" class="n"><circle cx="398.3" cy="1246.2" r="5.4"/></g>
<g id="n1195-62" class="n"><circle cx="398.3" cy="1266.4" r="5.4"/></g>
<g id="n585-17" class="n"><circle cx="195" cy="354.5" r="5.4"/></g>
<g id="n613-18" class="n"><circle cx="204.3" cy="374.8" r="5.4"/></g>
<g id="n725-19" class="n"><circle cx="241.7" cy="395" r="5.4"/></g>
<g id="n753-20" class="n"><circle cx="251" cy="415.3" r="5.4"/></g>
<g id="n753-21" class="n"><circle cx="251" cy="435.6" r="5.4"/></g>
<g id="n753-22" class="n"><circle cx="251" cy="455.8" r="5.4"/></g>
<g id="n753-23" class="n"><circle cx="251" cy="476.1" r="5.4"/></g>
<g id="n753-24" class="n"><circle cx="251" cy="496.4" r="5.4"/></g>
<g id="n678-25" class="n"><circle cx="226" cy="516.6" r="5.4"/></g>
<g id="n678-26" class="n"><circle cx="226" cy="536.9" r="5.4"/></g>
<g id="n778-25" class="n"><circle cx="259.3" cy="516.6" r="5.4"/></g>
<g id="n778-26" class="n"><circle cx="259.3" cy="536.9" r="5.4"/></g>
<g id="n730-27" class="n"><circle cx="243.3" cy="557.2" r="5.4"/></g>
<g id="n730-28" class="n"><circle cx="243.3" cy="577.4" r="5.4"/></g>
<g id="n730-29" class="n"><circle cx="243.3" cy="597.7" r="5.4"/></g>
<g id="n730-30" class="n"><circle cx="243.3" cy="618" r="5.4"/></g>
<g id="n830-27" class="n"><circle cx="276.7" cy="557.2" r="5.4"/></g>
<g id="n830-28" class="n"><circle cx="276.7" cy="577.4" r="5.4"/></g>
<g id="n873-21" class="n"><circle cx="291" cy="435.6" r="5.4"/></g>
<g id="n898-22" class="n"><circle cx="299.3" cy="455.8" r="5.4"/></g>
<g id="n940-23" class="n"><circle cx="313.3" cy="476.1" r="5.4"/></g>
<g id="n977-24" class="n"><circle cx="325.7" cy="496.4" r="5.4"/></g>
<g id="n930-25" class="n"><circle cx="310" cy="516.6" r="5.4"/></g>
<g id="n930-26" class="n"><circle cx="310" cy="536.9" r="5.4"/></g>
<g id="n930-27" class="n"><circle cx="310" cy="557.2" r="5.4"/></g>
<g id="n930-28" class="n"><circle cx="310" cy="577.4" r="5.4"/></g>
<g id="n930-29" class="n"><circle cx="310" cy="597.7" r="5.4"/></g>
<g id="n930-30" class="n"><circle cx="310" cy="618" r="5.4"/></g>
<g id="n1030-25" class="n"><circle cx="343.3" cy="516.6" r="5.4"/></g>
<g id="n1030-26" class="n"><circle cx="343.3" cy="536.9" r="5.4"/></g>
<g id="n1130-25" class="n"><circle cx="376.7" cy="516.6" r="5.4"/></g>
<g id="n1130-26" class="n"><circle cx="376.7" cy="536.9" r="5.4"/></g>
<g id="n1130-27" class="n"><circle cx="376.7" cy="557.2" r="5.4"/></g>
<g id="n1130-28" class="n"><circle cx="376.7" cy="577.4" r="5.4"/></g>
<g id="n1030-27" class="n"><circle cx="343.3" cy="557.2" r="5.4"/></g>
<g id="n1030-28" class="n"><circle cx="343.3" cy="577.4" r="5.4"/></g>
<g id="n830-29" class="n"><circle cx="276.7" cy="597.7" r="5.4"/></g>
<g id="n830-30" class="n"><circle cx="276.7" cy="618" r="5.4"/></g>
<g id="n830-31" class="n"><circle cx="276.7" cy="638.2" r="5.4"/></g>
<g id="n830-32" class="n"><circle cx="276.7" cy="658.5" r="5.4"/></g>
<g id="n830-33" class="n"><circle cx="276.7" cy="678.7" r="5.4"/></g>
<g id="n830-34" class="n"><circle cx="276.7" cy="699" r="5.4"/></g>
<g id="n830-35" class="n"><circle cx="276.7" cy="719.3" r="5.4"/></g>
<g id="n830-36" class="n"><circle cx="276.7" cy="739.5" r="5.4"/></g>
<g id="n830-37" class="n"><circle cx="276.7" cy="759.8" r="5.4"/></g>
<g id="n830-38" class="n"><circle cx="276.7" cy="780.1" r="5.4"/></g>
<g id="n830-39" class="n"><circle cx="276.7" cy="800.3" r="5.4"/></g>
<g id="n830-40" class="n"><circle cx="276.7" cy="820.6" r="5.4"/></g>
<g id="n730-31" class="n"><circle cx="243.3" cy="638.2" r="5.4"/></g>
<g id="n730-32" class="n"><circle cx="243.3" cy="658.5" r="5.4"/></g>
<g id="n730-33" class="n"><circle cx="243.3" cy="678.7" r="5.4"/></g>
<g id="n730-34" class="n"><circle cx="243.3" cy="699" r="5.4"/></g>
</g>
</svg>
